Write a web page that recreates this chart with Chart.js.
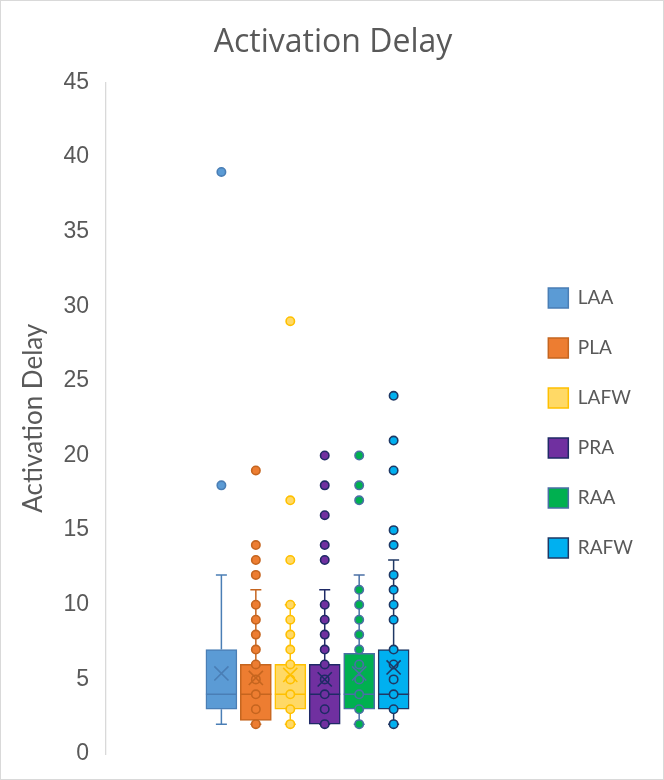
<!DOCTYPE html>
<html>
<head>
<meta charset="utf-8">
<title>Activation Delay</title>
<script src="https://cdn.jsdelivr.net/npm/chart.js@4.4.0/dist/chart.umd.min.js"></script>
<style>
  html, body { margin:0; padding:0; background:#fff; }
  #wrap { width:664px; height:780px; box-sizing:border-box; border:1px solid #d9d9d9; }
  canvas { display:block; }
</style>
</head>
<body>
<div id="wrap"><canvas id="chartBox" width="662" height="778"></canvas></div>
<script>
// Box statistics (one value per category)
const categories = ['LAA', 'PLA', 'LAFW', 'PRA', 'RAA', 'RAFW'];
const q1Values = [3, 2.25, 3, 2, 3, 3];
const q3Values = [7, 6, 6, 6, 6.75, 7];
const medianValues = [4, 4, 4, 4, 4, 4];
const meanValues = [5.4, 5.1, 5.3, 5.0, 5.4, 5.8];
const whiskerLow = [2, 2, 2, 2, 2, 2];
const whiskerHigh = [12, 11, 10, 11, 12, 13];

// Markers drawn per category (inner points and outliers)
const pointsLAA = [18, 39];
const pointsPLA = [2, 3, 4, 5, 6, 7, 8, 9, 10, 12, 13, 14, 19];
const pointsLAFW = [2, 3, 4, 5, 6, 7, 8, 9, 10, 13, 17, 29];
const pointsPRA = [2, 3, 4, 5, 6, 7, 8, 9, 10, 13, 14, 16, 18, 20];
const pointsRAA = [2, 3, 4, 5, 6, 7, 8, 9, 10, 11, 17, 18, 20];
const pointsRAFW = [2, 3, 4, 5, 6, 7, 9, 10, 11, 12, 14, 15, 19, 21, 24];

// y axis ticks
const yMin = 0, yMax = 45, yStep = 5;

const fillColors = ['#5B9BD5', '#ED7D31', '#FFD966', '#7030A0', '#00B050', '#00B0F0'];
const lineColors = ['#4A7EB5', '#C5651F', '#FFC000', '#1F2A66', '#4A6FA5', '#1F3864'];
const allPoints = [pointsLAA, pointsPLA, pointsLAFW, pointsPRA, pointsRAA, pointsRAFW];

document.addEventListener('DOMContentLoaded', () => {
  const ctx = document.getElementById('chartBox');
  const datasets = [];

  // boxes (floating bars) - these also feed the legend
  categories.forEach((name, i) => {
    datasets.push({
      type: 'bar',
      label: name,
      data: [{x: i + 1, y: [q1Values[i], q3Values[i]]}],
      backgroundColor: fillColors[i],
      borderColor: lineColors[i],
      borderWidth: 1.5,
      borderSkipped: false,
      barThickness: 31,
      grouped: false,
      order: 3
    });
  });

  // whiskers with caps
  categories.forEach((name, i) => {
    datasets.push({
      type: 'line',
      label: name + ' whisker',
      data: [
        {x: i + 1, y: whiskerLow[i]},
        {x: i + 1, y: q1Values[i]},
        {x: i + 1, y: null},
        {x: i + 1, y: q3Values[i]},
        {x: i + 1, y: whiskerHigh[i]}
      ],
      borderColor: lineColors[i],
      borderWidth: 1.5,
      spanGaps: false,
      pointStyle: 'line',
      pointRadius: [5.5, 0, 0, 0, 5.5],
      pointBorderColor: lineColors[i],
      pointBorderWidth: 1.5,
      order: 4
    });
  });

  // medians
  datasets.push({
    type: 'scatter',
    label: 'median',
    data: medianValues.map((v, i) => ({x: i + 1, y: v})),
    pointStyle: 'line',
    pointRadius: 15.5,
    pointBorderColor: lineColors,
    pointBorderWidth: 1.5,
    order: 2
  });

  // individual points
  allPoints.forEach((arr, i) => {
    datasets.push({
      type: 'scatter',
      label: categories[i] + ' points',
      data: arr.map(v => ({x: i + 1, y: v})),
      pointStyle: 'circle',
      pointRadius: 4.2,
      pointBackgroundColor: fillColors[i],
      pointBorderColor: lineColors[i],
      pointBorderWidth: 1.6,
      order: 1
    });
  });

  // means
  datasets.push({
    type: 'scatter',
    label: 'mean',
    data: meanValues.map((v, i) => ({x: i + 1, y: v})),
    pointStyle: 'crossRot',
    pointRadius: 10,
    pointBorderColor: lineColors,
    pointBorderWidth: 1.6,
    order: 0
  });

  new Chart(ctx.getContext('2d'), {
    type: 'bar',
    data: {datasets},
    options: {
      responsive: false,
      animation: false,
      devicePixelRatio: 1,
      layout: {padding: {left: 22, right: 20, top: 0, bottom: 25}},
      plugins: {
        title: {
          display: true,
          text: 'Activation Delay',
          color: '#595959',
          font: {family: 'Open Sans', size: 32, weight: 'normal'},
          padding: {top: 23, bottom: 20}
        },
        legend: {
          position: 'right',
          align: 'center',
          fullSize: false,
          title: {display: true, text: ' ', padding: 0, font: {size: 8}},
          labels: {
            boxWidth: 20,
            boxHeight: 20,
            padding: 30,
            color: '#595959',
            font: {family: 'Lato', size: 19},
            filter: (item, data) => data.datasets[item.datasetIndex].type === 'bar'
          }
        },
        tooltip: {enabled: false}
      },
      scales: {
        x: {type: 'linear', min: -2.35, max: 9.62, offset: false, display: false},
        y: {
          min: yMin,
          max: yMax,
          ticks: {stepSize: yStep, color: '#595959', font: {family: 'Liberation Sans', size: 23}, padding: 2},
          grid: {display: false, drawTicks: true, tickLength: 15},
          border: {color: '#d9d9d9', width: 1.3},
          title: {display: true, text: 'Activation Delay', color: '#595959', font: {family: 'Lato', size: 26}, padding: {top: -5, bottom: 0}},
          afterFit: s => { s.width = 83; }
        }
      }
    }
  });
});
</script>
</body>
</html>
